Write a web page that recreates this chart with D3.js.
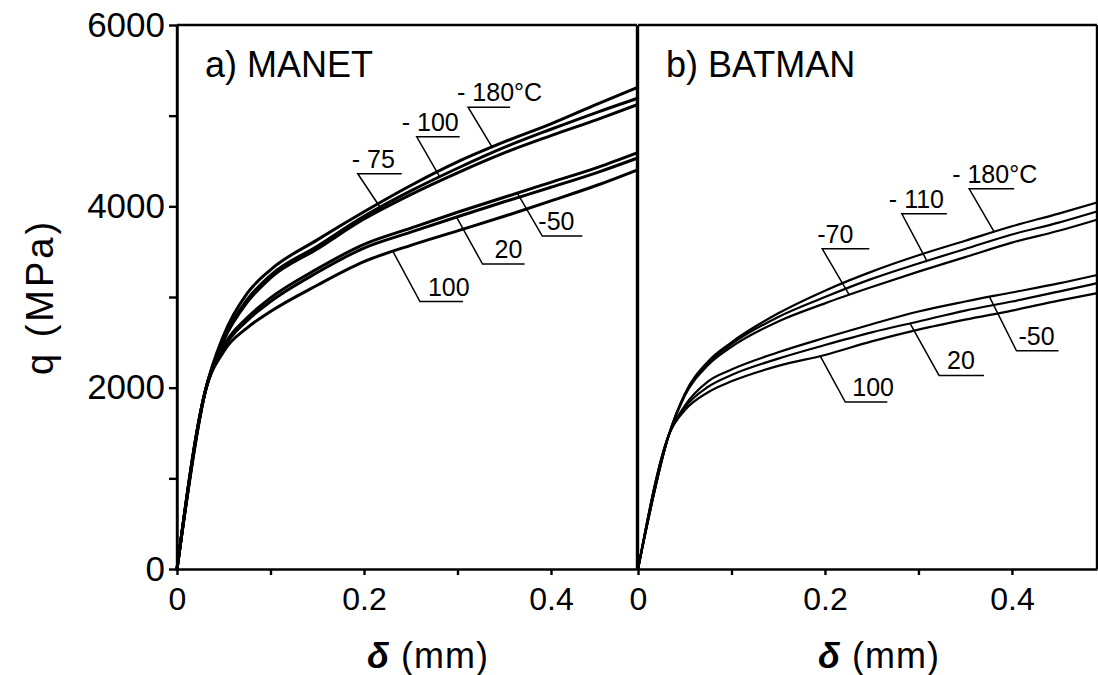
<!DOCTYPE html>
<html>
<head>
<meta charset="utf-8">
<style>
  body { margin: 0; background: #fff; }
  svg { display: block; }
  text { font-family: "Liberation Sans", Arial, sans-serif; fill: #000; }
  .axis path, .axis line { stroke: #000; stroke-width: 2.4; }
  .axis--x text { font-size: 32px; }
  .axis--y text { font-size: 35px; }
  .frame { stroke: #000; stroke-width: 2.4; }
  .curve { fill: none; stroke: #000; stroke-linejoin: round; stroke-linecap: round; }
  .leader { stroke: #000; stroke-width: 1.5; fill: none; }
  .curveLabel { font-size: 25px; }
  .panelTitle { font-size: 36px; }
  .axisTitle { font-size: 36px; letter-spacing: 1px; }
</style>
</head>
<body>
<svg id="chart" width="1098" height="675"></svg>
<script src="https://d3js.org/d3.v7.min.js"></script>
<script>

// a) MANET, displacement (mm) and load (MPa)
var deltaA = [0, 0.03, 0.05, 0.075, 0.1, 0.15, 0.2, 0.25, 0.3, 0.35, 0.4, 0.45, 0.492]
var manetM180 = [0, 1950, 2580, 3040, 3300, 3630, 3940, 4230, 4490, 4710, 4910, 5130, 5310]
var manetM100 = [0, 1950, 2540, 2970, 3240, 3560, 3890, 4170, 4420, 4650, 4850, 5040, 5190]
var manetM75 = [0, 1950, 2520, 2940, 3210, 3530, 3860, 4130, 4370, 4590, 4780, 4960, 5120]
var manetM50 = [0, 1950, 2460, 2770, 2990, 3310, 3580, 3760, 3935, 4100, 4265, 4430, 4590]
var manet20 = [0, 1950, 2440, 2740, 2950, 3270, 3540, 3715, 3885, 4050, 4210, 4375, 4530]
var manet100 = [0, 1950, 2400, 2660, 2840, 3130, 3390, 3570, 3730, 3890, 4060, 4235, 4400]
var manetLabels = ["- 180°C", "- 100", "- 75", "-50", "20", "100"]

// b) BATMAN
var deltaB = [0, 0.033, 0.05, 0.075, 0.1, 0.15, 0.2, 0.25, 0.3, 0.35, 0.4, 0.45, 0.49]
var batmanM180 = [0, 1480, 1930, 2290, 2500, 2820, 3070, 3280, 3460, 3620, 3780, 3920, 4040]
var batmanM110 = [0, 1480, 1920, 2270, 2480, 2780, 3000, 3200, 3370, 3530, 3690, 3820, 3940]
var batmanM70 = [0, 1480, 1910, 2250, 2450, 2730, 2930, 3110, 3280, 3440, 3600, 3730, 3850]
var batmanM50 = [0, 1480, 1800, 2070, 2200, 2390, 2550, 2700, 2840, 2950, 3050, 3150, 3240]
var batman20 = [0, 1480, 1780, 2010, 2140, 2320, 2470, 2610, 2730, 2850, 2950, 3060, 3150]
var batman100 = [0, 1480, 1750, 1950, 2070, 2240, 2360, 2510, 2640, 2750, 2850, 2960, 3040]
var batmanLabels = ["- 180°C", "- 110", "-70", "-50", "20", "100"]

var yTicks = [0, 1000, 2000, 3000, 4000, 5000, 6000]
var yTickLabels = ["0", "", "2000", "", "4000", "", "6000"]
var xTicks = [0, 0.1, 0.2, 0.3, 0.4]
var xTickLabels = ["0", "", "0.2", "", "0.4"]

// where each label's leader meets its curve (delta), offset of the underline, its length, text shift
var manetLeaders = [
  { at: 0.337, dx: -24, dy: -40, len: 42, tx: -11 },
  { at: 0.281, dx: -23, dy: -40, len: 43, tx: -15 },
  { at: 0.219, dx: -24, dy: -36, len: 44, tx: -6 },
  { at: 0.364, dx: 25, dy: 43, len: 40, tx: -4 },
  { at: 0.299, dx: 26, dy: 47, len: 42, tx: 12 },
  { at: 0.231, dx: 27, dy: 50, len: 43, tx: 8 }
]
var batmanLeaders = [
  { at: 0.381, dx: -25, dy: -43, len: 45, tx: -17 },
  { at: 0.309, dx: -25, dy: -47, len: 45, tx: -13 },
  { at: 0.226, dx: -27, dy: -46, len: 47, tx: -5 },
  { at: 0.376, dx: 27, dy: 54, len: 42, tx: 2 },
  { at: 0.291, dx: 29, dy: 52, len: 45, tx: 8 },
  { at: 0.195, dx: 25, dy: 46, len: 42, tx: 7 }
]

function createPanel(options) {
  var obj = new CurvePanel()
  obj.initialize(options)
  return obj
}

function CurvePanel() {

  this.options = {
    left: 177,
    top: 25,
    width: 460,
    height: 544,
    strokeWidth: 3,
    showYAxis: false
  }

  this.initialize = function (options) {
    this.setOptions(options)
    this.svg = d3.select("#chart")
    this.g = this.svg.append("g")
      .attr("transform", "translate(" + this.options.left + "," + this.options.top + ")")
    this.createScales()
    this.drawFrame()
    this.drawAxisX()
    if (this.options.showYAxis) this.drawAxisY()
    this.drawCurves()
    this.drawLabels()
    this.drawTitles()
  }

  this.setOptions = function (options) {
    for (var key in options) {
      this.options[key] = options[key]
    }
  }

  this.createScales = function () {
    this.x = d3.scaleLinear().domain([0, this.options.maxDelta]).range([0, this.options.width])
    this.y = d3.scaleLinear().domain([0, 6000]).range([this.options.height, 0])
  }

  this.drawFrame = function () {
    var w = this.options.width, h = this.options.height
    this.g.append("line").attr("class", "frame")
      .attr("x1", 0).attr("x2", w).attr("y1", 0).attr("y2", 0)
    this.g.append("line").attr("class", "frame")
      .attr("x1", 0).attr("x2", 0).attr("y1", 0).attr("y2", h)
    this.g.append("line").attr("class", "frame")
      .attr("x1", w).attr("x2", w).attr("y1", 0).attr("y2", h)
  }

  this.drawAxisX = function () {
    this.g.append("g")
      .attr("class", "axis axis--x")
      .attr("transform", "translate(0," + this.options.height + ")")
      .call(d3.axisBottom(this.x).tickValues(xTicks).tickSize(6).tickSizeOuter(0).tickPadding(12)
        .tickFormat(function (d, i) { return xTickLabels[i] }))
  }

  this.drawAxisY = function () {
    this.g.append("g")
      .attr("class", "axis axis--y")
      .call(d3.axisLeft(this.y).tickValues(yTicks).tickSize(8).tickSizeOuter(0).tickPadding(4)
        .tickFormat(function (d, i) { return yTickLabels[i] }))
  }

  this.drawCurves = function () {
    var $this = this
    var line = d3.line()
      .x(function (d) { return $this.x(d[0]) })
      .y(function (d) { return $this.y(d[1]) })
      .curve(d3.curveMonotoneX)
    this.options.series.forEach(function (values) {
      $this.g.append("path")
        .attr("class", "curve")
        .attr("stroke-width", $this.options.strokeWidth)
        .attr("d", line(d3.zip($this.options.delta, values)))
    })
  }

  this.drawLabels = function () {
    var $this = this
    var opts = this.options
    opts.leaders.forEach(function (p, i) {
      var onCurve = d3.scaleLinear().domain(opts.delta).range(opts.series[i])
      var cx = $this.x(p.at)
      var cy = $this.y(onCurve(p.at))
      var ux = cx + p.dx
      var uy = cy + p.dy
      $this.g.append("path")
        .attr("class", "leader")
        .attr("d", "M" + cx + "," + cy + "L" + ux + "," + uy + "L" + (ux + p.len) + "," + uy)
      $this.g.append("text")
        .attr("class", "curveLabel")
        .attr("x", ux + p.tx)
        .attr("y", uy - 6)
        .text(opts.labels[i])
    })
  }

  this.drawTitles = function () {
    this.g.append("text")
      .attr("class", "panelTitle")
      .attr("x", 28)
      .attr("y", 52)
      .text(this.options.title)
    var t = this.g.append("text")
      .attr("class", "axisTitle")
      .attr("x", this.options.xTitleX)
      .attr("y", 643)
    t.append("tspan").style("font-style", "italic").style("font-weight", "bold").text("δ")
    t.append("tspan").text(" (mm)")
    if (this.options.showYAxis) {
      this.svg.append("text")
        .attr("class", "axisTitle")
        .attr("text-anchor", "middle")
        .attr("transform", "translate(53,297) rotate(-90)")
        .style("letter-spacing", "3px")
        .style("font-size", "38px")
        .text("q (MPa)")
    }
  }

}

createPanel({
  left: 177,
  width: 460,
  maxDelta: 0.492,
  delta: deltaA,
  series: [manetM180, manetM100, manetM75, manetM50, manet20, manet100],
  labels: manetLabels,
  leaders: manetLeaders,
  title: "a) MANET",
  xTitleX: 190,
  strokeWidth: 3,
  showYAxis: true
})

createPanel({
  left: 638,
  width: 459,
  maxDelta: 0.491,
  delta: deltaB,
  series: [batmanM180, batmanM110, batmanM70, batmanM50, batman20, batman100],
  labels: batmanLabels,
  leaders: batmanLeaders,
  title: "b) BATMAN",
  xTitleX: 180,
  strokeWidth: 2.2,
  showYAxis: false
})

</script>
</body>
</html>
